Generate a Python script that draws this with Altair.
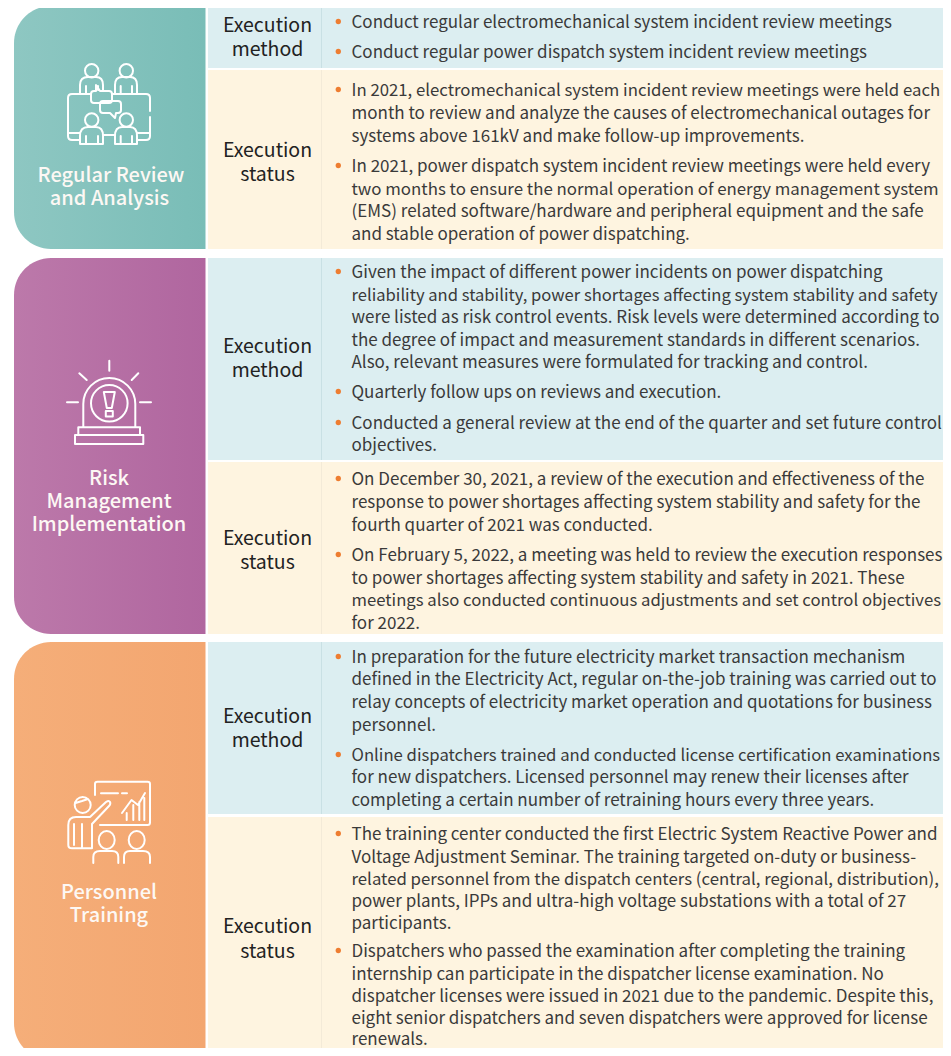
import altair as alt
import pandas as pd

# ---------- content ----------
PANEL_TITLES = [["Regular Review", "and Analysis"], ["Risk", "Management", "Implementation"], ["Personnel", "Training"]]
ROW_LABELS = [["Execution", "method"], ["Execution", "status"]] * 3
BODY = [
    [["Conduct regular electromechanical system incident review meetings"],
     ["Conduct regular power dispatch system incident review meetings"]],
    [["In 2021, electromechanical system incident review meetings were held each",
      "month to review and analyze the causes of electromechanical outages for",
      "systems above 161kV and make follow-up improvements."],
     ["In 2021, power dispatch system incident review meetings were held every",
      "two months to ensure the normal operation of energy management system",
      "(EMS) related software/hardware and peripheral equipment and the safe",
      "and stable operation of power dispatching."]],
    [["Given the impact of different power incidents on power dispatching",
      "reliability and stability, power shortages affecting system stability and safety",
      "were listed as risk control events. Risk levels were determined according to",
      "the degree of impact and measurement standards in different scenarios.",
      "Also, relevant measures were formulated for tracking and control."],
     ["Quarterly follow ups on reviews and execution."],
     ["Conducted a general review at the end of the quarter and set future control",
      "objectives."]],
    [["On December 30, 2021, a review of the execution and effectiveness of the",
      "response to power shortages affecting system stability and safety for the",
      "fourth quarter of 2021 was conducted."],
     ["On February 5, 2022, a meeting was held to review the execution responses",
      "to power shortages affecting system stability and safety in 2021. These",
      "meetings also conducted continuous adjustments and set control objectives",
      "for 2022."]],
    [["In preparation for the future electricity market transaction mechanism",
      "defined in the Electricity Act, regular on-the-job training was carried out to",
      "relay concepts of electricity market operation and quotations for business",
      "personnel."],
     ["Online dispatchers trained and conducted license certification examinations",
      "for new dispatchers. Licensed personnel may renew their licenses after",
      "completing a certain number of retraining hours every three years."]],
    [["The training center conducted the first Electric System Reactive Power and",
      "Voltage Adjustment Seminar. The training targeted on-duty or business-",
      "related personnel from the dispatch centers (central, regional, distribution),",
      "power plants, IPPs and ultra-high voltage substations with a total of 27",
      "participants."],
     ["Dispatchers who passed the examination after completing the training",
      "internship can participate in the dispatcher license examination. No",
      "dispatcher licenses were issued in 2021 due to the pandemic. Despite this,",
      "eight senior dispatchers and seven dispatchers were approved for license",
      "renewals."]],
]

# ---------- layout (reference pixels) ----------
PANEL_TOP = [6, 258, 642]
PANEL_BOTTOM = [249, 634, 1060]
ROW_TOP = [6, 70, 258, 462, 642, 817]
ROW_BOTTOM = [68, 249, 460, 634, 814, 1060]
TITLE_BASE = [[181.5, 204.5], [485, 508, 531], [899, 922]]
TITLE_X = [[111, 109.5], [109, 109, 109], [109, 109]]
LABEL_BASE = [[32, 55.5], [157, 181], [353, 377], [545, 569], [723, 747], [933, 958]]
BODY_BASE = [
    [[28], [58]],
    [[96, 119, 142], [172, 195, 217, 240]],
    [[278, 301, 323, 346, 368], [398], [429, 451]],
    [[485, 508, 531], [561, 584, 606, 629]],
    [[663, 685, 708, 731], [761, 783, 806]],
    [[840, 862.5, 884.5, 907, 929], [957, 979.5, 1001.5, 1023.5, 1045]],
]
GRADS = [("#8EC7C2", "#79BDB7"), ("#BC79AA", "#B0669F"), ("#F5AE79", "#F3A670")]
BLUE, CREAM = "#DCEEF1", "#FEF4E0"
FONT = "Noto Sans CJK TC"
BODY_SIZE = 17.0
BODY_SIZE_FIT = {
    "In 2021, electromechanical system incident review meetings were held each": 16.75,
    "two months to ensure the normal operation of energy management system": 16.85,
    "reliability and stability, power shortages affecting system stability and safety": 16.6,
    "related personnel from the dispatch centers (central, regional, distribution),": 16.8,
    "meetings also conducted continuous adjustments and set control objectives": 16.7,
    "Online dispatchers trained and conducted license certification examinations": 16.7,
}

ICON_1 = (
    "M85,70.7a6.7,6.7 0 1 0 13.4,0a6.7,6.7 0 1 0 -13.4,0Z M119.6,70.7a6.7,6.7 0 1 0 13.4,0a6.7,6.7 0 1 0 -13.4,0Z "
    "M80,93V85Q80,77 88,77H96Q103,77 103,85V91 M86,86V93 M98,86V90 "
    "M115,93V85Q115,77 122,77H130Q137,77 137,85V93 M120.7,86V93 M132,86V93 "
    "M90,94H72Q68,94 68,98V136Q68,140 72,140H80 M113,94H146Q150,94 150,98V111 M150,117V136Q150,140 146,140H138 "
    "M69,133H80 M103,135H115 M138,133H150 "
    "M85,120a6.7,6.7 0 1 0 13.4,0a6.7,6.7 0 1 0 -13.4,0Z M119.6,120a6.7,6.7 0 1 0 13.4,0a6.7,6.7 0 1 0 -13.4,0Z "
    "M80,144V136Q80,127 88,127H96Q103,127 103,136V144Z M86,136V144 M98,136V144 "
    "M115,144V136Q115,127 122,127H130Q137,127 137,136V144Z M120.7,136V144 M132,136V144 "
    "M96,85L100,91H109Q112,91 112,94V100Q112,103 109,103H94Q91,103 91,100V94Q91,91 94,91H96Z "
    "M103,101H118Q121,101 121,104V110Q121,113 118,113H116L115,118L110,113H103Q100,113 100,110V104Q100,101 103,101Z"
)
ICON_2 = (
    "M109.3,360.7V370.7 M79.3,373.3L86.7,380 M138.3,373.3L131.7,380 M67,402.3H78 M140,402.3H151 "
    "M83.3,427.3V404A26,26 0 0 1 135.3,404V427.3 "
    "M91,403.3a18.3,18.3 0 1 0 36.6,0a18.3,18.3 0 1 0 -36.6,0Z "
    "M103.8,392H114.8L111.8,408H106.8Z M105.8,411H112.8V416.5H105.8Z "
    "M78.3,435V427.3H140V435 M75,435H143.3V444H75Z"
)
ICON_3 = (
    "M95,795V784Q95,781.7 97.5,781.7H147.5Q150,781.7 150,784V822.5Q150,825 147.5,825H100 "
    "M101,793.3H118 M122,793.3H127 "
    "M122,813L131.5,800L138,805L145,793 M126.7,820V813 M133.3,820V805 M139.3,820V802 M144.3,820V798 "
    "M74.7,805a8,8 0 1 0 16,0a8,8 0 1 0 -16,0Z M75.5,803L82,801L88,799 "
    "M90,817L106,802Q109,800 110,802Q111,804 109,806L92,824V848.3H72Q68.3,848.3 68.3,845V825Q68.3,817 76,817H90 "
    "M74,824V845 M82,824V848 "
    "M98.7,840a8,9 0 1 0 16,0a8,9 0 1 0 -16,0Z M128.7,840a8,9 0 1 0 16,0a8,9 0 1 0 -16,0Z "
    "M93.3,863V857Q93.3,851 100,851H112Q118.3,851 118.3,857V863 "
    "M124,863V857Q124,851 130,851H143Q150,851 150,857V863"
)
ICONS = [ICON_1, ICON_2, ICON_3]

# ---------- tables ----------
rows = pd.DataFrame({
    "x": [208] * 6, "x2": [951] * 6, "y": ROW_TOP, "y2": ROW_BOTTOM,
    "c": [BLUE, CREAM] * 3,
    "d": ["#C9E0E4", "#F3EAD8"] * 3,
})
titles, labels, body, bullets = [], [], [], []
for t, b, xs in zip(PANEL_TITLES, TITLE_BASE, TITLE_X):
    titles += [{"t": s, "y": y, "x": x} for s, y, x in zip(t, b, xs)]
for t, b in zip(ROW_LABELS, LABEL_BASE):
    labels += [{"t": s, "y": y, "x": 267.5} for s, y in zip(t, b)]
for cell, cell_y in zip(BODY, BODY_BASE):
    for item, item_y in zip(cell, cell_y):
        bullets.append({"y": item_y[0] - 6.5, "x": 338.3})
        body += [{"t": s, "y": y, "x": 351.5, "s": BODY_SIZE_FIT.get(s, BODY_SIZE)}
                 for s, y in zip(item, item_y)]

XS = alt.Scale(domain=[8, 943], range=[0, 935])
X = alt.X("x:Q", scale=XS, axis=None)
Y = alt.Y("y:Q", scale=alt.Scale(domain=[8, 1048], range=[0, 1040]), axis=None)

layers = []
for i in range(3):
    grad = alt.LinearGradient(gradient="linear", x1=0, x2=1, y1=0, y2=0,
                              stops=[alt.GradientStop(color=GRADS[i][0], offset=0),
                                     alt.GradientStop(color=GRADS[i][1], offset=1)])
    layers.append(alt.Chart(pd.DataFrame({"x": [14], "x2": [205.5], "y": [PANEL_TOP[i]], "y2": [PANEL_BOTTOM[i]]}))
                  .mark_rect(fill=grad, cornerRadiusTopLeft=37, cornerRadiusBottomLeft=37)
                  .encode(x=X, x2="x2:Q", y=Y, y2="y2:Q"))
layers.append(alt.Chart(rows).mark_rect().encode(x=X, x2="x2:Q", y=Y, y2="y2:Q",
                                                 color=alt.Color("c:N", scale=None)))
layers.append(alt.Chart(rows).mark_rule(strokeWidth=1).encode(
    x=alt.datum(321.5, scale=XS, axis=None),
    y=Y, y2="y2:Q", color=alt.Color("d:N", scale=None)))
for p in ICONS:
    layers.append(alt.Chart(pd.DataFrame({"x": [0], "y": [0]}))
                  .mark_point(shape=p, size=4, filled=False, stroke="#FFFFFF", strokeWidth=2,
                              opacity=1, strokeCap="round", strokeJoin="round")
                  .encode(x=X, y=Y))
layers.append(alt.Chart(pd.DataFrame(titles)).mark_text(font=FONT, fontSize=20, fontWeight=500, color="#FDF8F4", align="center", baseline="alphabetic")
              .encode(x=X, y=Y, text="t:N"))
layers.append(alt.Chart(pd.DataFrame(labels)).mark_text(font=FONT, fontSize=19.5, color="#222222", align="center", baseline="alphabetic")
              .encode(x=X, y=Y, text="t:N"))
layers.append(alt.Chart(pd.DataFrame(bullets)).mark_point(shape="circle", filled=True, size=28, color="#EE7D31", opacity=1)
              .encode(x=X, y=Y))
layers.append(alt.Chart(pd.DataFrame(body)).mark_text(font=FONT, color="#3A3A3A", align="left", baseline="alphabetic")
              .encode(x=X, y=Y, text="t:N", size=alt.Size("s:Q", scale=None)))

chart = alt.layer(*layers).properties(
    width=935, height=1040, padding=0, background="#FFFFFF",
    autosize=alt.AutoSizeParams(type="none"),
).configure_view(stroke=None)
chart.save("out.html", embed_options={"renderer": "svg", "actions": False})
